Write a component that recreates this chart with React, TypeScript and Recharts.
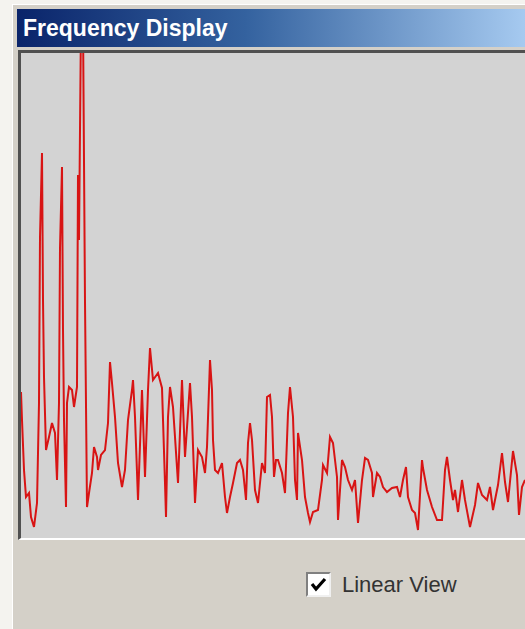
import { LineChart, Line, XAxis, YAxis } from 'recharts';

// frequency bins and their magnitudes
const freqBins = [
  0, 1, 3, 5, 8, 10, 13, 16, 18, 19, 21, 22, 23, 25, 28, 31, 34, 36, 38, 39,
  41, 42, 43, 45, 46, 48, 51, 53, 56, 57, 58, 60, 62, 64, 66, 68, 71, 73, 76, 77,
  80, 84, 87, 89, 91, 94, 97, 101, 104, 107, 111, 112, 114, 117, 121, 124, 127, 129, 132, 137,
  141, 144, 145, 147, 149, 152, 154, 157, 161, 164, 169, 171, 174, 177, 181, 184, 186, 189, 191, 192,
  194, 197, 201, 204, 206, 209, 212, 216, 219, 222, 225, 227, 229, 231, 234, 237, 241, 244, 246, 249,
  251, 253, 255, 257, 261, 264, 267, 269, 272, 274, 276, 277, 281, 284, 287, 289, 292, 297, 301, 302,
  306, 309, 312, 316, 317, 321, 324, 327, 331, 334, 337, 341, 344, 347, 351, 352, 356, 359, 362, 366,
  371, 376, 379, 382, 385, 387, 391, 394, 397, 401, 402, 406, 411, 416, 421, 424, 426, 429, 432, 434,
  437, 441, 444, 449, 454, 457, 461, 466, 469, 472, 477, 481, 484, 487, 492, 496, 498, 501, 504,
];

const magnitudes = [
  148, 120, 70, 43, 47, 23, 13, 37, 137, 303, 387, 240, 163, 90, 103, 117, 107, 60, 137, 292,
  373, 210, 120, 33, 137, 153, 150, 133, 153, 365, 300, 520, 520, 238, 33, 47, 67, 93, 83, 70,
  85, 90, 117, 178, 157, 123, 77, 53, 70, 120, 150, 160, 123, 40, 150, 63, 150, 192, 160, 167,
  152, 57, 23, 123, 153, 133, 103, 57, 160, 83, 157, 123, 37, 90, 83, 67, 93, 180, 150, 100,
  70, 67, 77, 43, 27, 43, 57, 77, 80, 70, 40, 97, 117, 100, 50, 37, 77, 67, 143, 145,
  123, 63, 80, 80, 67, 47, 127, 153, 123, 60, 40, 107, 80, 43, 27, 18, 28, 30, 60, 75,
  67, 103, 97, 63, 20, 80, 73, 60, 50, 60, 17, 60, 82, 80, 67, 43, 67, 63, 53, 48,
  52, 53, 43, 60, 73, 43, 30, 27, 10, 80, 72, 50, 33, 20, 20, 70, 83, 60, 40, 50,
  28, 60, 40, 13, 35, 57, 45, 40, 53, 30, 55, 87, 58, 38, 89, 65, 25, 53, 60,
];

const spectrum = freqBins.map((f, i) => ({ freq: f, mag: magnitudes[i] }));

export default function App() {
  return (
    <div style={{ position: 'relative', width: 525, height: 629, background: '#f4f3ef', overflow: 'hidden' }}>
      <style>{`body{margin:0}`}</style>
      {/* panel */}
      <div style={{ position: 'absolute', left: 12, top: 4, right: 0, bottom: 0, background: '#d4d0c8', borderLeft: '1px solid #fff', borderTop: '1px solid #fff' }} />
      {/* caption */}
      <div
        style={{
          position: 'absolute', left: 17, top: 9, width: 508, height: 38,
          background: 'linear-gradient(to right, #0a246a, #34629f 45%, #a6caf0)',
        }}
      >
        <span
          style={{
            position: 'absolute', left: 6, top: 6, color: '#fff',
            fontFamily: '"Liberation Sans", Arial, sans-serif', fontWeight: 'bold', fontSize: 23, lineHeight: '26px',
          }}
        >
          Frequency Display
        </span>
      </div>
      {/* sunken plot frame */}
      <div
        style={{
          position: 'absolute', left: 18, top: 50, width: 507, height: 490,
          borderTop: '3px solid #505050', borderLeft: '3px solid #505050', borderBottom: '2px solid #fff',
          boxSizing: 'border-box', background: '#d3d3d3',
        }}
      />
      <div style={{ position: 'absolute', left: 21, top: 53 }}>
        <LineChart width={504} height={487} data={spectrum} margin={{ top: 0, right: 0, bottom: 0, left: 0 }}>
          <XAxis dataKey="freq" type="number" domain={[0, 504]} allowDataOverflow hide />
          <YAxis type="number" domain={[0, 487]} allowDataOverflow hide />
          <Line type="linear" dataKey="mag" stroke="#d81414" strokeWidth={2} dot={false} isAnimationActive={false} />
        </LineChart>
      </div>
      {/* checkbox */}
      <div
        style={{
          position: 'absolute', left: 306, top: 572, width: 25, height: 25, background: '#fff',
          borderTop: '2px solid #808080', borderLeft: '2px solid #808080',
          borderBottom: '2px solid #f0f0f0', borderRight: '2px solid #f0f0f0', boxSizing: 'border-box',
        }}
      >
        <svg width={21} height={21} style={{ position: 'absolute', left: 0, top: 0 }}>
          <polyline points="4,10 8,15 17,5" fill="none" stroke="#000" strokeWidth={3.2} />
        </svg>
      </div>
      <span
        style={{
          position: 'absolute', left: 342, top: 572, color: '#333',
          fontFamily: '"Liberation Sans", Arial, sans-serif', fontSize: 22, lineHeight: '26px',
        }}
      >
        Linear View
      </span>
    </div>
  );
}
